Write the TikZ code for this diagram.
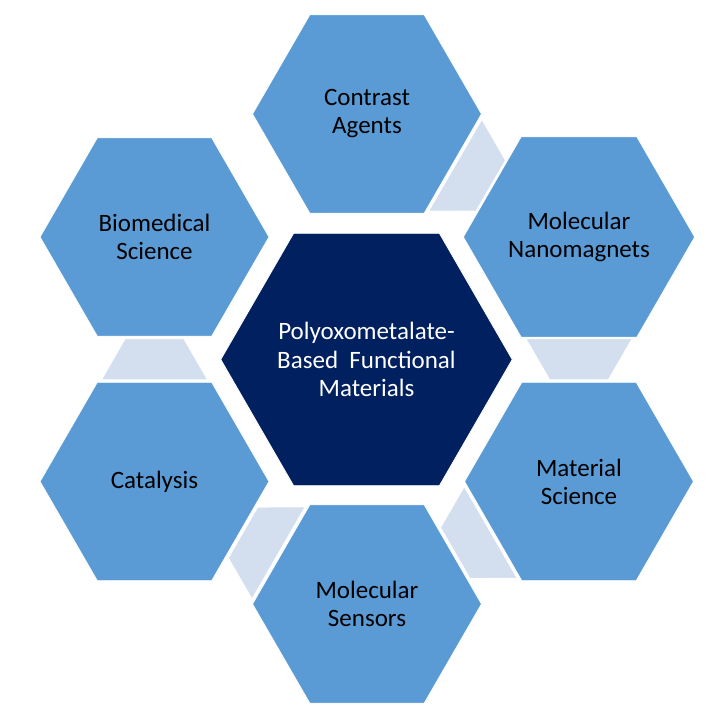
\documentclass[tikz,border=0pt]{standalone}
\usepackage{fontspec}
\setmainfont{Carlito}
\usetikzlibrary{shapes.geometric,calc}
\definecolor{hexblue}{HTML}{5B9BD5}
\definecolor{hexnavy}{HTML}{002060}
\definecolor{linkfill}{HTML}{D3DEEF}
\newcommand\hexlink[2]{%
  \path[linkshape] let \p1=($(#2)-(#1)$), \n1={atan2(\y1,\x1)} in
    ($(#1)!0.5!(#2)$) ++(\n1+180:20.5) ++(\n1+90:53) -- ++(\n1-90:106)
    -- ++(\n1+30:47.3) -- ++(\n1+90:58.7) -- cycle;}
\begin{document}
\begin{tikzpicture}[x=1pt,y=1pt,
  hexa/.style={regular polygon, regular polygon sides=6, minimum size=229pt,
    inner sep=0pt, outer sep=0pt, fill=hexblue, draw=white, line width=0.8pt,
    text=black, align=center, font=\fontsize{25}{28}\selectfont},
  core/.style={hexa, minimum size=285pt, fill=hexnavy, text=white,
    font=\fontsize{25}{28.7}\selectfont},
  linkshape/.style={fill=linkfill, draw=white, line width=0.8pt}]
\useasboundingbox (0,0) rectangle (722,-719);
\node[core] (core) at (366.5,-359.5) {Polyoxometalate-\\Based\ \ Functional\\Materials};
\node[hexa] (ca)  at (367,-114)   {Contrast\\Agents};
\node[hexa] (nano) at (579,-237)  {Molecular\\Nanomagnets};
\node[hexa] (mat) at (579,-481.5) {Material\\Science};
\node[hexa] (sen) at (367,-604)   {Molecular\\Sensors};
\node[hexa] (cat) at (154.5,-481.5) {Catalysis};
\node[hexa] (bio) at (154.5,-237) {Biomedical\\Science};
\hexlink{ca}{nano}
\hexlink{nano}{mat}
\hexlink{mat}{sen}
\hexlink{sen}{cat}
\hexlink{cat}{bio}
\end{tikzpicture}
\end{document}
